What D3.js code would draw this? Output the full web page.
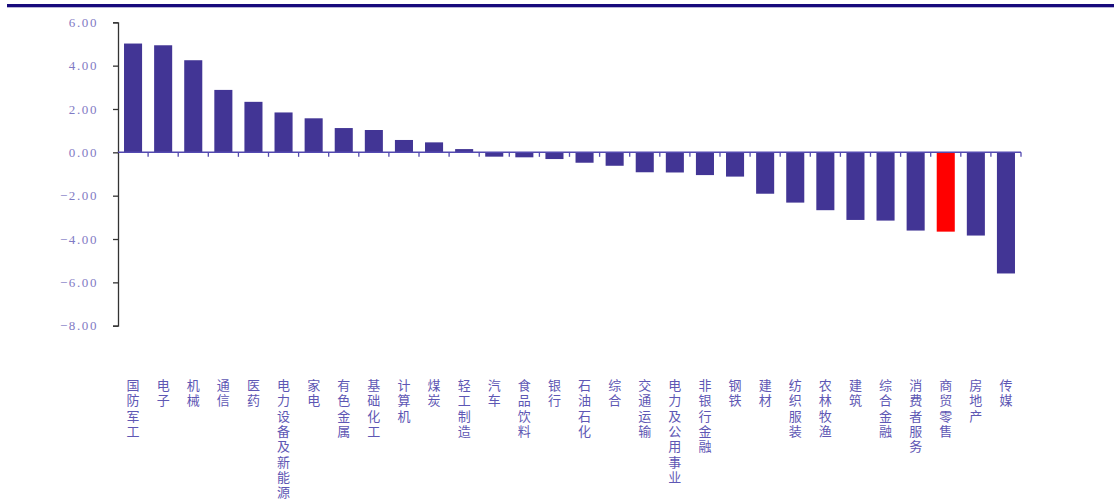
<!DOCTYPE html>
<html><head><meta charset="utf-8">
<script src="https://cdn.jsdelivr.net/npm/d3@7/dist/d3.min.js"></script>
<style>body{margin:0;background:#fff}svg{display:block}</style>
</head><body>
<script>
const categories = ["国防军工","电子","机械","通信","医药","电力设备及新能源","家电","有色金属","基础化工","计算机","煤炭","轻工制造","汽车","食品饮料","银行","石油石化","综合","交通运输","电力及公用事业","非银行金融","钢铁","建材","纺织服装","农林牧渔","建筑","综合金融","消费者服务","商贸零售","房地产","传媒"];
const values = [5.02,4.94,4.25,2.88,2.33,1.84,1.57,1.12,1.03,0.57,0.46,0.15,-0.20,-0.23,-0.31,-0.48,-0.62,-0.92,-0.93,-1.05,-1.12,-1.91,-2.32,-2.67,-3.12,-3.15,-3.61,-3.66,-3.84,-5.59];
const highlight = ["商贸零售"];
const yTicks = [6,4,2,0,-2,-4,-6,-8];

const W = 1114, H = 501;
const svg = d3.select("body").append("svg").attr("width", W).attr("height", H);

// top rule
svg.append("rect").attr("x", 7).attr("y", 4).attr("width", W - 7).attr("height", 3.3).attr("fill", "#170a7c");

const x = d3.scaleBand().domain(categories).range([118, 1021]).paddingInner(0.4).paddingOuter(0.2);
const y = d3.scaleLinear().domain([-8, 6]).range([325.7, 22.3]);

// bars
svg.append("g").selectAll("rect").data(categories).join("rect")
  .attr("x", d => x(d))
  .attr("width", x.bandwidth())
  .attr("y", (d, i) => y(Math.max(0, values[i])))
  .attr("height", (d, i) => Math.abs(y(values[i]) - y(0)))
  .attr("fill", d => highlight.includes(d) ? "#ff0000" : "#423595");

// y axis
const yAxis = svg.append("g").attr("transform", "translate(118,0)")
  .call(d3.axisLeft(y).tickValues(yTicks).tickSize(5).tickPadding(15).tickFormat(d3.format(".2f")));
yAxis.select(".domain").attr("stroke", "#333").attr("stroke-width", 1.3);
yAxis.selectAll(".tick line").attr("stroke", "#333").attr("stroke-width", 1.3);
yAxis.selectAll(".tick text").attr("fill", "#7f7ac4")
  .style("font-family", "'Liberation Serif','DejaVu Serif',serif").style("font-size", "13px")
  .style("letter-spacing", "1.6px");

// zero axis line with category ticks
const step = x.step();
const boundaries = d3.range(1, categories.length + 1).map(k => x.range()[0] + k * step);
const zg = svg.append("g");
zg.append("line").attr("x1", 118).attr("x2", 1021).attr("y1", y(0)).attr("y2", y(0))
  .attr("stroke", "#5349b0").attr("stroke-width", 1.5);
zg.selectAll("line.t").data(boundaries).join("line").attr("class", "t")
  .attr("x1", d => d).attr("x2", d => d).attr("y1", y(0)).attr("y2", y(0) + 4.5)
  .attr("stroke", "#5349b0").attr("stroke-width", 1.3);

// vertical category labels
const lab = svg.append("g").style("font-family", "'Noto Sans CJK SC',sans-serif").style("font-size", "13px").attr("fill", "#5e57b4");
categories.forEach(c => {
  const cx = x(c) + x.bandwidth() / 2;
  const t = lab.append("text").attr("text-anchor", "middle");
  Array.from(c).forEach((ch, j) => {
    t.append("tspan").attr("x", cx).attr("y", 390 + j * 15.3).text(ch);
  });
});
</script>
</body></html>
